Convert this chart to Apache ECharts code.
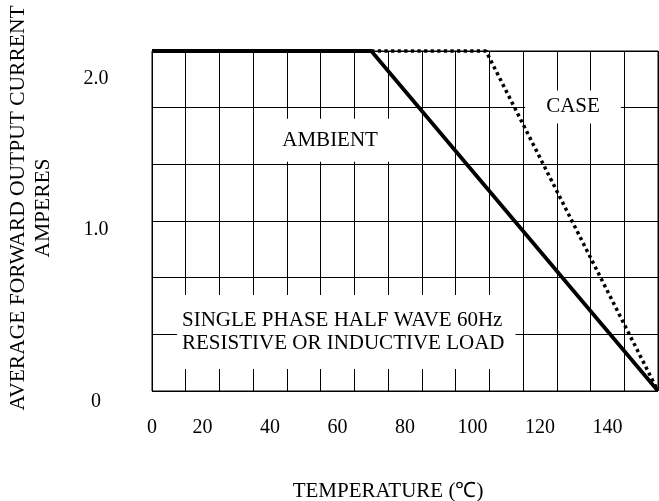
<!DOCTYPE html>
<html>
<head>
<meta charset="utf-8">
<script src="https://cdn.jsdelivr.net/npm/echarts@6/dist/echarts.min.js"></script>
<style>
html,body{margin:0;padding:0;background:#fff;}
#c{width:659px;height:501px;}
</style>
</head>
<body>
<div id="c"></div>
<script>
// ---- data ----
const X_MIN = 5, X_MAX = 155;          // temperature axis range (°C)
const Y_MIN = 0, Y_MAX = 2.25;         // current axis range (A)
const xTickValues = [20, 40, 60, 80, 100, 120, 140];
const yTickValues = [0, 1, 2];
const ambientTemp = [5, 70, 155];
const ambientCurrent = [2.25, 2.25, 0];
const caseTemp = [70, 104, 155];
const caseCurrent = [2.25, 2.25, 0];

const FONT = '"Liberation Serif", "Times New Roman", serif';

const chart = echarts.init(document.getElementById('c'), null, {renderer: 'canvas'});

const option = {
  backgroundColor: '#fff',
  animation: false,
  grid: {
    left: 152, right: 1, top: 51, bottom: 110,
    outerBoundsMode: 'none', containLabel: false,
    show: true, borderColor: '#000', borderWidth: 1, backgroundColor: '#fff'
  },
  xAxis: {
    type: 'value', min: X_MIN, max: X_MAX, interval: 10,
    axisLine: {show: false},
    axisTick: {show: false},
    splitLine: {show: true, lineStyle: {color: '#000', width: 1}},
    axisLabel: {
      customValues: [X_MIN].concat(xTickValues),
      formatter: v => (v === X_MIN ? '0' : String(v)),
      color: '#000', fontFamily: FONT, fontSize: 20, margin: 27, hideOverlap: false
    },
    name: 'TEMPERATURE (\u2103)',
    nameLocation: 'middle', nameGap: 90,
    nameTextStyle: {color: '#000', fontFamily: FONT, fontSize: 21, padding: [0, 34, 0, 0]}
  },
  yAxis: {
    type: 'value', min: Y_MIN, max: Y_MAX, interval: 0.375,
    axisLine: {show: false},
    axisTick: {show: false},
    splitLine: {show: true, lineStyle: {color: '#000', width: 1}},
    axisLabel: {
      customValues: yTickValues,
      formatter: v => (v === 0 ? '{lo|0}' : '{hi|' + v.toFixed(1) + '}'),
      align: 'center', margin: 56,
      color: '#000', fontFamily: FONT, fontSize: 20,
      rich: {
        lo: {color: '#000', fontFamily: FONT, fontSize: 20, padding: [22, 0, 0, 0]},
        hi: {color: '#000', fontFamily: FONT, fontSize: 20, padding: [0, 0, 20, 0]}
      }
    },
    name: 'AVERAGE FORWARD OUTPUT CURRENT\nAMPERES',
    nameLocation: 'middle', nameRotate: 90, nameGap: 96,
    nameTextStyle: {color: '#000', fontFamily: FONT, fontSize: 21.5, lineHeight: 25, align: 'center', padding: [0, 0, 0, 26]}
  },
  series: [
    {
      name: 'CASE', type: 'line', clip: false, symbol: 'none', z: 3,
      data: caseTemp.map((t, i) => [t, caseCurrent[i]]),
      lineStyle: {color: '#000', width: 3.5, type: [3.2, 3.4], cap: 'butt'}
    },
    {
      name: 'AMBIENT', type: 'line', clip: false, symbol: 'none', z: 4,
      data: ambientTemp.map((t, i) => [t, ambientCurrent[i]]),
      lineStyle: {color: '#000', width: 3.8, type: 'solid'},
      markPoint: {
        symbol: 'rect', symbolSize: 1, itemStyle: {color: 'rgba(0,0,0,0)'},
        silent: true,
        data: [
          {coord: [57.8, 1.66], label: {show: true, position: 'inside', formatter: 'AMBIENT',
            color: '#000', fontFamily: FONT, fontSize: 21, backgroundColor: '#fff', padding: [11, 17]}},
          {coord: [129.8, 1.88], label: {show: true, position: 'inside', formatter: 'CASE',
            color: '#000', fontFamily: FONT, fontSize: 21, backgroundColor: '#fff', padding: [6, 21]}},
          {coord: [12.4, 0.39], label: {show: true, position: 'inside', align: 'left',
            formatter: 'SINGLE PHASE HALF WAVE 60Hz\nRESISTIVE OR INDUCTIVE LOAD',
            color: '#000', fontFamily: FONT, fontSize: 21, lineHeight: 23,
            backgroundColor: '#fff', padding: [14, 11, 14, 5]}}
        ]
      }
    }
  ]
};
chart.setOption(option);
</script>
</body>
</html>
